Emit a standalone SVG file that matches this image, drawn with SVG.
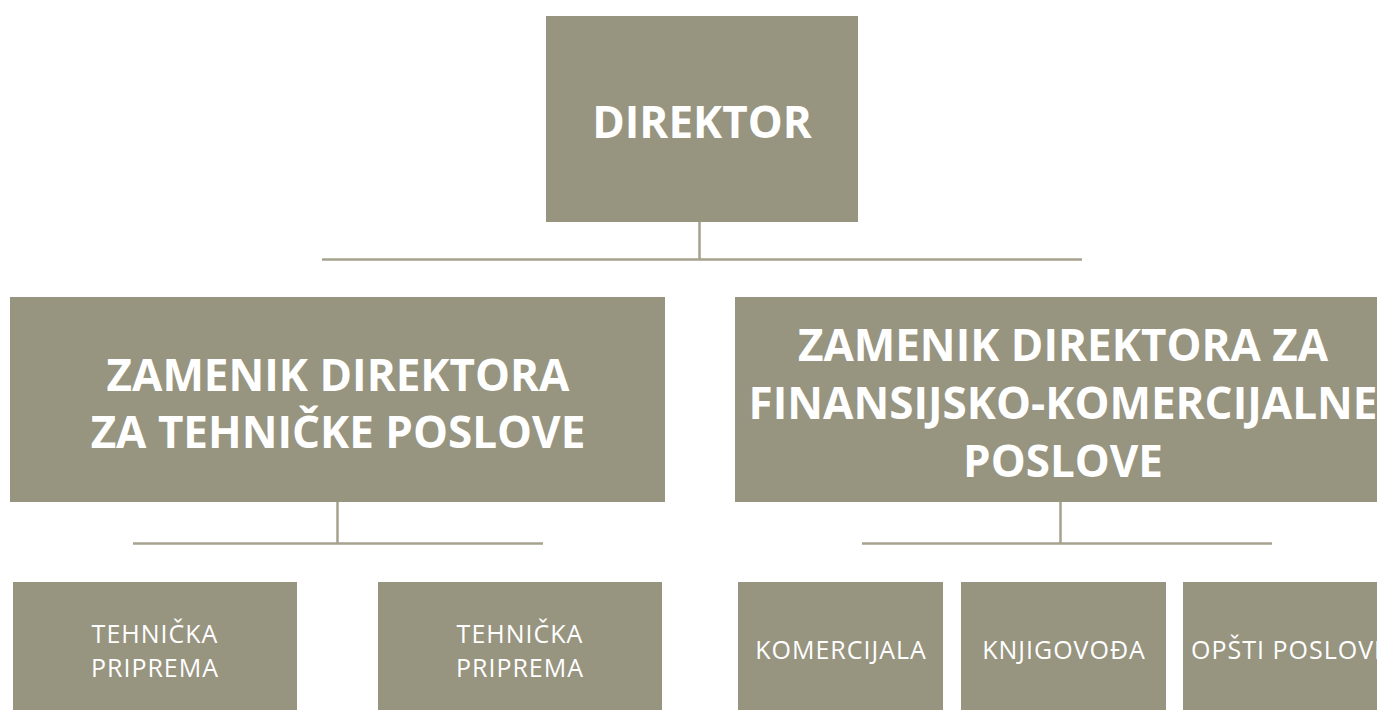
<svg xmlns="http://www.w3.org/2000/svg" width="1377" height="710" viewBox="0 0 1377 710">
<style>
.box{fill:#979480}
.line{stroke:#a6a28e;stroke-width:2.5;fill:none}
.title{font-family:"Open Sans","Liberation Sans",sans-serif;font-weight:700;font-size:44px;fill:#ffffff;text-anchor:middle}
.small{font-family:"Open Sans","Liberation Sans",sans-serif;font-weight:400;font-size:25px;letter-spacing:1px;fill:#ffffff;text-anchor:middle}
</style>
<rect width="1377" height="710" fill="#ffffff"/>
<g id="connectors">
<line class="line" x1="699.5" y1="222" x2="699.5" y2="259.5"/>
<line class="line" x1="322" y1="259.5" x2="1082" y2="259.5"/>
<line class="line" x1="337.5" y1="502" x2="337.5" y2="543.5"/>
<line class="line" x1="133" y1="543.5" x2="543" y2="543.5"/>
<line class="line" x1="1060.5" y1="502" x2="1060.5" y2="543.5"/>
<line class="line" x1="862" y1="543.5" x2="1272" y2="543.5"/>
</g>
<g id="direktor">
<rect class="box" x="546" y="16" width="312" height="206"/>
<text class="title" x="702" y="138">DIREKTOR</text>
</g>
<g id="zamenik-tehnicki">
<rect class="box" x="10" y="297" width="655" height="205"/>
<text class="title" x="338" y="391">ZAMENIK DIREKTORA</text>
<text class="title" x="338" y="448">ZA TEHNIČKE POSLOVE</text>
</g>
<g id="zamenik-finansijski">
<rect class="box" x="735" y="297" width="656" height="205"/>
<text class="title" x="1063" y="361">ZAMENIK DIREKTORA ZA</text>
<text class="title" x="1063" y="419">FINANSIJSKO-KOMERCIJALNE</text>
<text class="title" x="1063" y="477">POSLOVE</text>
</g>
<g id="tehnicka-priprema-1">
<rect class="box" x="13" y="582" width="284" height="128"/>
<text class="small" x="155" y="643">TEHNIČKA</text>
<text class="small" x="155" y="677">PRIPREMA</text>
</g>
<g id="tehnicka-priprema-2">
<rect class="box" x="378" y="582" width="284" height="128"/>
<text class="small" x="520" y="643">TEHNIČKA</text>
<text class="small" x="520" y="677">PRIPREMA</text>
</g>
<g id="komercijala">
<rect class="box" x="738" y="582" width="205" height="128"/>
<text class="small" x="841" y="659">KOMERCIJALA</text>
</g>
<g id="knjigovodja">
<rect class="box" x="961" y="582" width="205" height="128"/>
<text class="small" x="1064" y="659">KNJIGOVOĐA</text>
</g>
<g id="opsti-poslovi">
<rect class="box" x="1183" y="582" width="205" height="128"/>
<text class="small" x="1290" y="659">OPŠTI POSLOVE</text>
</g>
</svg>
